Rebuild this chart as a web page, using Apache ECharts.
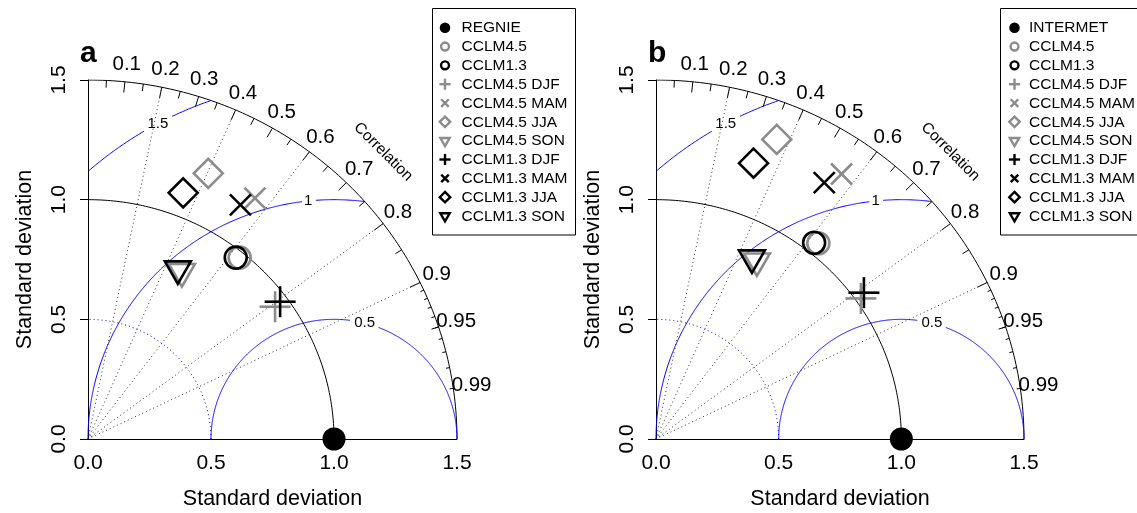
<!DOCTYPE html>
<html>
<head>
<meta charset="utf-8">
<script src="https://cdn.jsdelivr.net/npm/echarts@6/dist/echarts.min.js"></script>
<style>
  html, body { margin: 0; padding: 0; background: #fff; }
  #chart { width: 1137px; height: 513px; }
</style>
</head>
<body>
<div id="chart"></div>
<script>
// ---- data (standard deviation, correlation) ----
const panelLetters = ['a', 'b'];
const refNames = ['REGNIE', 'INTERMET'];
const modelNames = ['CCLM4.5', 'CCLM1.3', 'CCLM4.5 DJF', 'CCLM4.5 MAM', 'CCLM4.5 JJA', 'CCLM4.5 SON',
  'CCLM1.3 DJF', 'CCLM1.3 MAM', 'CCLM1.3 JJA', 'CCLM1.3 SON'];
const modelSymbols = ['circle', 'circle', 'plus', 'cross', 'diamond', 'tri', 'plus', 'cross', 'diamond', 'tri'];
const modelColors = ['#8c8c8c', '#000', '#8c8c8c', '#8c8c8c', '#8c8c8c', '#8c8c8c', '#000', '#000', '#000', '#000'];

const sdA = [0.977, 0.967, 0.940, 1.214, 1.213, 0.797, 0.969, 1.158, 1.099, 0.799];
const corA = [0.631, 0.621, 0.809, 0.559, 0.403, 0.479, 0.806, 0.535, 0.352, 0.457];
const sdB = [1.052, 1.043, 1.021, 1.341, 1.345, 0.850, 1.045, 1.272, 1.219, 0.852];
const corB = [0.629, 0.618, 0.818, 0.564, 0.366, 0.484, 0.811, 0.539, 0.326, 0.459];
const refSd = 1.0;

// diagram furniture
const axisTickLabels = [0, 0.5, 1, 1.5];
const maxSd = 1.5;
const corrLabels = [0.1, 0.2, 0.3, 0.4, 0.5, 0.6, 0.7, 0.8, 0.9, 0.95, 0.99];
const bigTicks = [0.1, 0.2, 0.3, 0.4, 0.5, 0.6, 0.7, 0.8, 0.9];
const medTicks = [0.05, 0.15, 0.25, 0.35, 0.45, 0.55, 0.65, 0.75, 0.85, 0.95];
const smlTicks = [0.91, 0.92, 0.93, 0.94, 0.95, 0.96, 0.97, 0.98, 0.99];
const corrLines = [0.2, 0.4, 0.6, 0.8, 0.9];
const rmsLevels = [0.5, 1, 1.5];
const rmsLabelAngle = [75.6, 96, 118.5];
const rmsGap = [[68.8, 82.4], [94.4, 97.5], [116.1, 120.8]];

const FONT = "'Liberation Sans', Arial, Helvetica, sans-serif";
const grids = [
  { left: 88, top: 80, width: 369, height: 359 },
  { left: 656, top: 80, width: 368, height: 359 }
];
const legendBox = [{ x: 432.5, sym: 445, txt: 461.5 }, { x: 1000.5, sym: 1014.5, txt: 1029 }];

function toXY(sd, r) { return [sd * r, sd * Math.sqrt(1 - r * r)]; }

function arcPts(cx, cy, rad, a0, a1) {
  const pts = [];
  const n = 120;
  for (let i = 0; i <= n; i++) {
    const a = (a0 + (a1 - a0) * i / n) * Math.PI / 180;
    pts.push([cx + rad * Math.cos(a), cy + rad * Math.sin(a)]);
  }
  return pts;
}

function rmsSegments(k) {
  const rad = rmsLevels[k];
  const segs = [];
  let cur = [];
  for (let a = 0; a <= 180.0001; a += 0.25) {
    const t = a * Math.PI / 180;
    const x = refSd + rad * Math.cos(t), y = rad * Math.sin(t);
    const ok = x >= -1e-9 && Math.sqrt(x * x + y * y) <= maxSd + 1e-9 && !(a > rmsGap[k][0] && a < rmsGap[k][1]);
    if (ok) cur.push([x, y]);
    else if (cur.length) { segs.push(cur); cur = []; }
  }
  if (cur.length) segs.push(cur);
  return segs;
}

function marker(type, cx, cy, s, color, lw) {
  const st = { fill: 'none', stroke: color, lineWidth: lw };
  if (type === 'dot') return { type: 'circle', shape: { cx, cy, r: 11.5 * s }, style: { fill: color } };
  if (type === 'circle') return { type: 'circle', shape: { cx, cy, r: 11 * s }, style: st };
  if (type === 'plus') {
    const h = 15.5 * s;
    return { type: 'group', children: [
      { type: 'line', shape: { x1: cx - h, y1: cy, x2: cx + h, y2: cy }, style: st },
      { type: 'line', shape: { x1: cx, y1: cy - h, x2: cx, y2: cy + h }, style: st }
    ] };
  }
  if (type === 'cross') {
    const h = 10.5 * s;
    return { type: 'group', children: [
      { type: 'line', shape: { x1: cx - h, y1: cy - h, x2: cx + h, y2: cy + h }, style: st },
      { type: 'line', shape: { x1: cx - h, y1: cy + h, x2: cx + h, y2: cy - h }, style: st }
    ] };
  }
  if (type === 'diamond') {
    const h = 14.5 * s;
    return { type: 'polygon', shape: { points: [[cx, cy - h], [cx + h, cy], [cx, cy + h], [cx - h, cy]] }, style: st };
  }
  // down triangle, point at centroid
  const r = 15 * s, hw = r * Math.sqrt(3) / 2;
  return { type: 'polygon', shape: { points: [[cx - hw, cy - r / 2], [cx + hw, cy - r / 2], [cx, cy + r]] }, style: st };
}

const xAxes = [], yAxes = [], series = [], graphic = [];

[0, 1].forEach(p => {
  const sd = p === 0 ? sdA : sdB;
  const cor = p === 0 ? corA : corB;
  const g = grids[p];

  xAxes.push({
    gridIndex: p, type: 'value', min: 0, max: 1.5, interval: 0.5,
    axisLine: { show: true, onZero: false, lineStyle: { color: '#000', width: 1 } },
    axisTick: { show: false }, splitLine: { show: false },
    axisLabel: { fontSize: 21, color: '#000', fontFamily: FONT, margin: 14,
      formatter: v => axisTickLabels.indexOf(v) >= 0 ? v.toFixed(1) : '' }
  });
  yAxes.push({
    gridIndex: p, type: 'value', min: 0, max: 1.5, interval: 0.5,
    axisLine: { show: true, onZero: false, lineStyle: { color: '#000', width: 1 } },
    axisTick: { show: true, length: 8, lineStyle: { color: '#000', width: 1 } },
    splitLine: { show: false },
    axisLabel: { fontSize: 21, color: '#000', fontFamily: FONT, margin: 18, rotate: 90,
      formatter: v => axisTickLabels.indexOf(v) >= 0 ? v.toFixed(1) : '' }
  });

  const common = { xAxisIndex: p, yAxisIndex: p, coordinateSystem: 'cartesian2d', silent: true, animation: false };

  // black arcs and correlation ticks
  const blackLines = [
    { coords: arcPts(0, 0, maxSd, 0, 90) },
    { coords: arcPts(0, 0, refSd, 0, 90) }
  ];
  [[bigTicks, 0.97], [medTicks, 0.98], [smlTicks, 0.99]].forEach(([list, f]) => {
    list.forEach(c => {
      const a = toXY(maxSd, c), b = toXY(maxSd * f, c);
      blackLines.push({ coords: [a, b] });
    });
  });
  series.push(Object.assign({ type: 'lines', polyline: true, data: blackLines,
    lineStyle: { color: '#000', width: 1, opacity: 1 } }, common));

  // radial correlation lines
  series.push(Object.assign({ type: 'lines', polyline: true,
    data: corrLines.map(c => ({ coords: [[0, 0], toXY(maxSd, c)] })),
    lineStyle: { color: '#333', width: 1, type: [1, 3], opacity: 1 } }, common));

  // sd 0.5 dotted arc
  series.push(Object.assign({ type: 'lines', polyline: true,
    data: [{ coords: arcPts(0, 0, 0.5, 0, 90) }],
    lineStyle: { color: '#0000ff', width: 1, type: [1, 3], opacity: 1 } }, common));

  // centred RMS difference contours
  const rmsData = [];
  rmsLevels.forEach((lv, k) => rmsSegments(k).forEach(s => rmsData.push({ coords: s })));
  series.push(Object.assign({ type: 'lines', polyline: true, data: rmsData,
    lineStyle: { color: '#0000ff', width: 1, opacity: 1 } }, common));

  // text labels on the diagram
  const lbl = (fs, extra) => Object.assign({ show: true, position: 'inside', formatter: '{b}',
    color: '#000', textBorderWidth: 0, fontFamily: FONT, fontSize: fs,
    align: 'center', verticalAlign: 'middle' }, extra || {});
  series.push(Object.assign({ type: 'scatter', clip: false, symbolSize: 1,
    itemStyle: { color: 'rgba(0,0,0,0)', opacity: 1 },
    labelLayout: { hideOverlap: false },
    label: lbl(20.5),
    data: corrLabels.map(c => ({ name: String(c), value: toXY(maxSd * 1.05, c) }))
      .concat([{ name: 'Correlation', value: [maxSd * 0.8, maxSd * 0.8], label: lbl(15.5, { rotate: -45 }) }])
      .concat(rmsLevels.map((lv, k) => {
        const t = rmsLabelAngle[k] * Math.PI / 180;
        return { name: String(lv), value: [refSd + lv * Math.cos(t), lv * Math.sin(t)], label: lbl(15) };
      }))
  }, common));

  // observations and models
  const pts = [[refSd, 0]].concat(sd.map((s, i) => toXY(s, cor[i])));
  const types = ['dot'].concat(modelSymbols);
  const cols = ['#000'].concat(modelColors);
  series.push(Object.assign({ type: 'custom', clip: false,
    data: pts.map((q, i) => [q[0], q[1], i]),
    renderItem: (params, api) => {
      const c = api.coord([api.value(0), api.value(1)]);
      const i = api.value(2);
      return marker(types[i], c[0], c[1], 1, cols[i], 2.6);
    }
  }, common));

  // panel letter and axis titles
  graphic.push({ type: 'text', x: g.left - 8, y: 39, style: { text: panelLetters[p], font: 'bold 30px ' + FONT,
    fill: '#000', textAlign: 'left', textVerticalAlign: 'alphabetic' } });
  graphic.push({ type: 'text', x: g.left + g.width / 2, y: 499, style: { text: 'Standard deviation',
    font: '21.5px ' + FONT, fill: '#000', textAlign: 'center', textVerticalAlign: 'middle' } });
  graphic.push({ type: 'text', x: g.left - 63, y: g.top + g.height / 2, rotation: Math.PI / 2,
    style: { text: 'Standard deviation', font: '21.5px ' + FONT, fill: '#000',
      textAlign: 'center', textVerticalAlign: 'middle' } });

  // legend box
  const lb = legendBox[p];
  const kids = [{ type: 'rect', shape: { x: lb.x, y: 8.5, width: 143, height: 226.5 },
    style: { fill: '#fff', stroke: '#000', lineWidth: 1 } }];
  const names = [refNames[p]].concat(modelNames);
  names.forEach((nm, i) => {
    const y = 27.7 + i * 18.83;
    kids.push(marker(types[i], lb.sym, y, types[i] === 'dot' ? 0.46 : 0.36, cols[i], 2.4));
    kids.push({ type: 'text', x: lb.txt, y: y + 0.5, style: { text: nm, font: '15.5px ' + FONT, fill: '#000',
      textAlign: 'left', textVerticalAlign: 'middle' } });
  });
  graphic.push({ type: 'group', children: kids });
});

const chart = echarts.init(document.getElementById('chart'));
chart.setOption({
  animation: false,
  backgroundColor: '#fff',
  grid: grids,
  xAxis: xAxes,
  yAxis: yAxes,
  series: series,
  graphic: graphic
});
</script>
</body>
</html>
